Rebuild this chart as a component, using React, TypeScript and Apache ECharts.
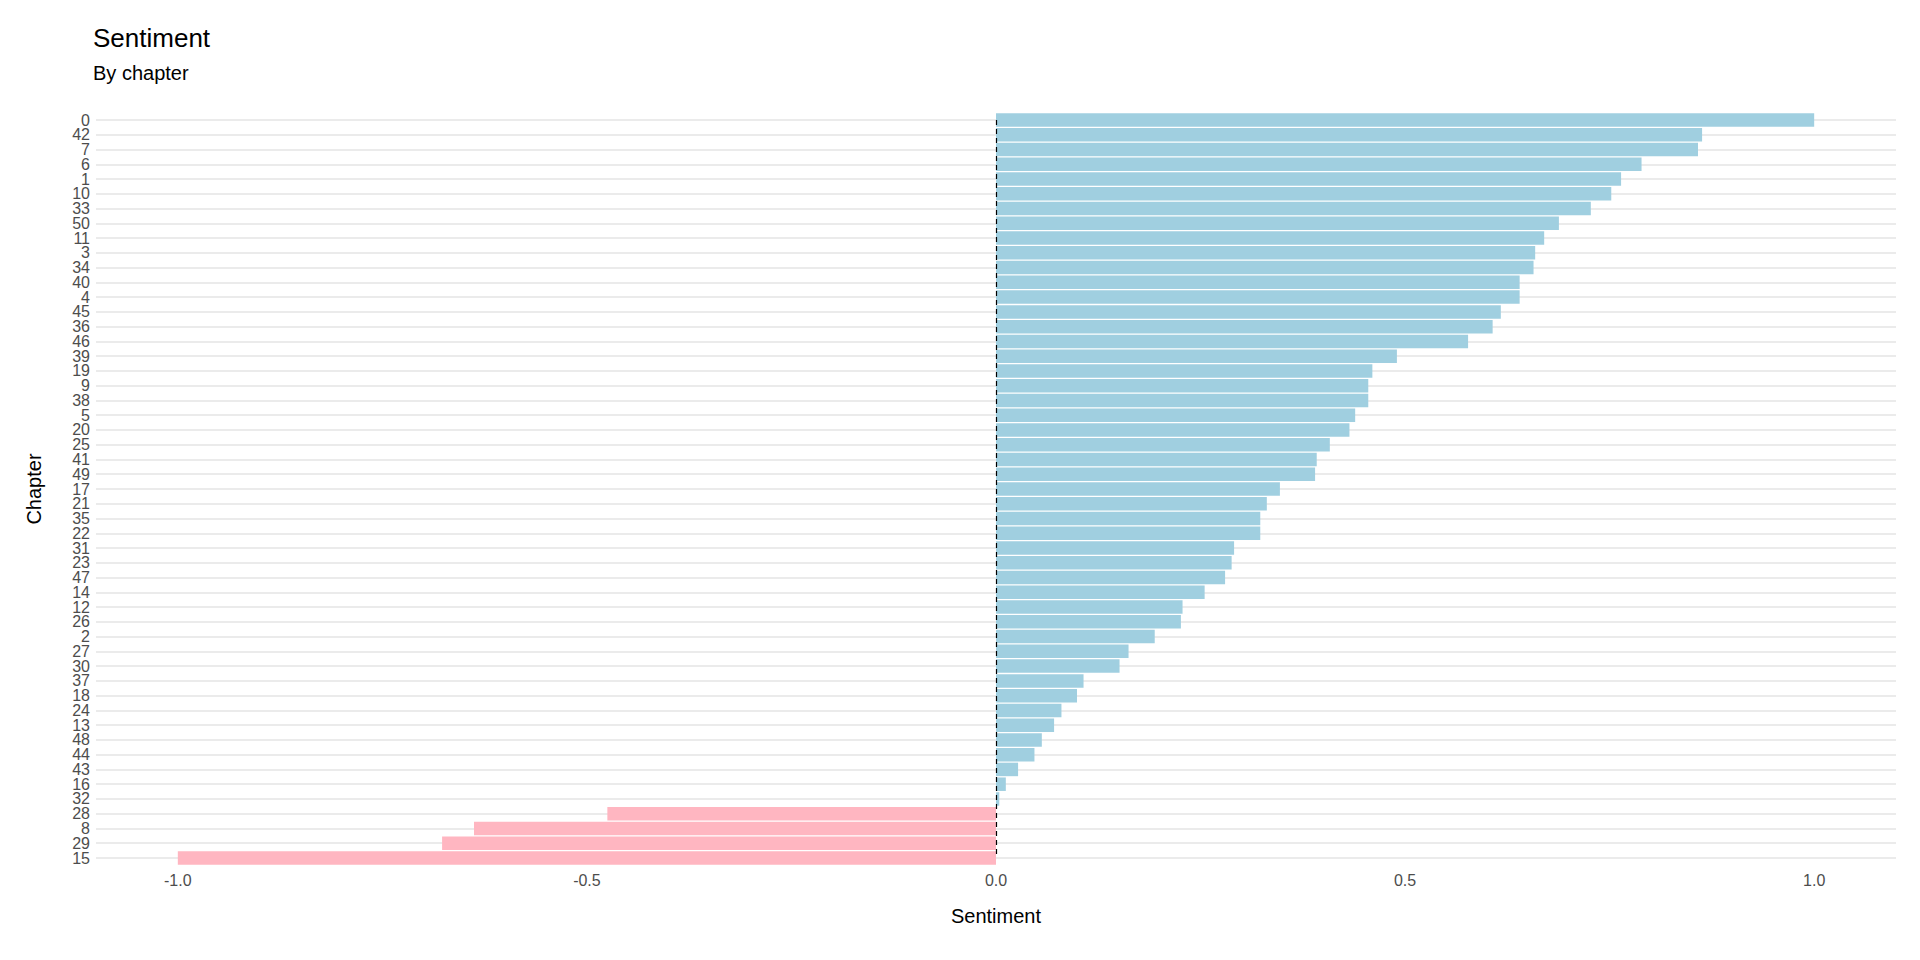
import { useEffect, useRef } from "react";
import * as echarts from "echarts";

// top to bottom
const chapters = ["0","42","7","6","1","10","33","50","11","3","34","40","4","45","36","46","39","19","9","38","5","20","25","41","49","17","21","35","22","31","23","47","14","12","26","2","27","30","37","18","24","13","48","44","43","16","32","28","8","29","15"];
const sentiment = [1.0,0.863,0.858,0.789,0.764,0.752,0.727,0.688,0.67,0.659,0.657,0.64,0.64,0.617,0.607,0.577,0.49,0.46,0.455,0.455,0.439,0.432,0.408,0.392,0.39,0.347,0.331,0.323,0.323,0.291,0.288,0.28,0.255,0.228,0.226,0.194,0.162,0.151,0.107,0.099,0.08,0.071,0.056,0.047,0.027,0.012,0.004,-0.475,-0.638,-0.677,-1.0];
const xTicks = [-1, -0.5, 0, 0.5, 1];

const FONT = "Arial, 'Liberation Sans', sans-serif";

export default function App() {
  const chartRef = useRef<HTMLDivElement>(null);

  useEffect(() => {
    if (!chartRef.current) return;
    const chart = echarts.init(chartRef.current, null, { renderer: "svg" });
    chart.setOption({
      animation: false,
      textStyle: { fontFamily: FONT },
      title: {
        text: "Sentiment",
        subtext: "By chapter",
        left: 80,
        top: 12,
        itemGap: 12,
        textStyle: { fontSize: 26, fontWeight: "normal", color: "#000" },
        subtextStyle: { fontSize: 20, color: "#000" },
      },
      grid: { left: 88, right: 16, top: 112, bottom: 94 },
      xAxis: {
        type: "value",
        min: -1.1,
        max: 1.1,
        name: "Sentiment",
        nameLocation: "middle",
        nameGap: 48,
        nameTextStyle: { fontSize: 20, color: "#000" },
        axisLine: { show: false },
        axisTick: { show: false },
        splitLine: { show: false },
        axisLabel: {
          customValues: xTicks,
          formatter: (v: number) => v.toFixed(1),
          fontSize: 16,
          color: "#4d4d4d",
          margin: 14,
        },
      },
      yAxis: {
        type: "category",
        data: chapters,
        inverse: true,
        boundaryGap: false,
        name: "Chapter",
        nameLocation: "middle",
        nameGap: 52,
        nameTextStyle: { fontSize: 20, color: "#000" },
        axisLine: { show: false },
        axisTick: { show: false },
        axisLabel: { fontSize: 16, color: "#4d4d4d", margin: 6, interval: 0 },
        splitLine: { show: true, lineStyle: { color: "#ebebeb", width: 2 } },
      },
      series: [
        {
          type: "bar",
          barWidth: 13.5,
          data: sentiment.map((v) => ({
            value: v,
            itemStyle: { color: v < 0 ? "#ffb6c1" : "#a0cfe0" },
          })),
          markLine: {
            symbol: "none",
            silent: true,
            label: { show: false },
            lineStyle: { color: "#000", type: [5, 4], width: 1.2 },
            data: [{ xAxis: 0 }],
          },
        },
      ],
    });
    return () => chart.dispose();
  }, []);

  return <div ref={chartRef} style={{ width: 1904, height: 944 }} />;
}
